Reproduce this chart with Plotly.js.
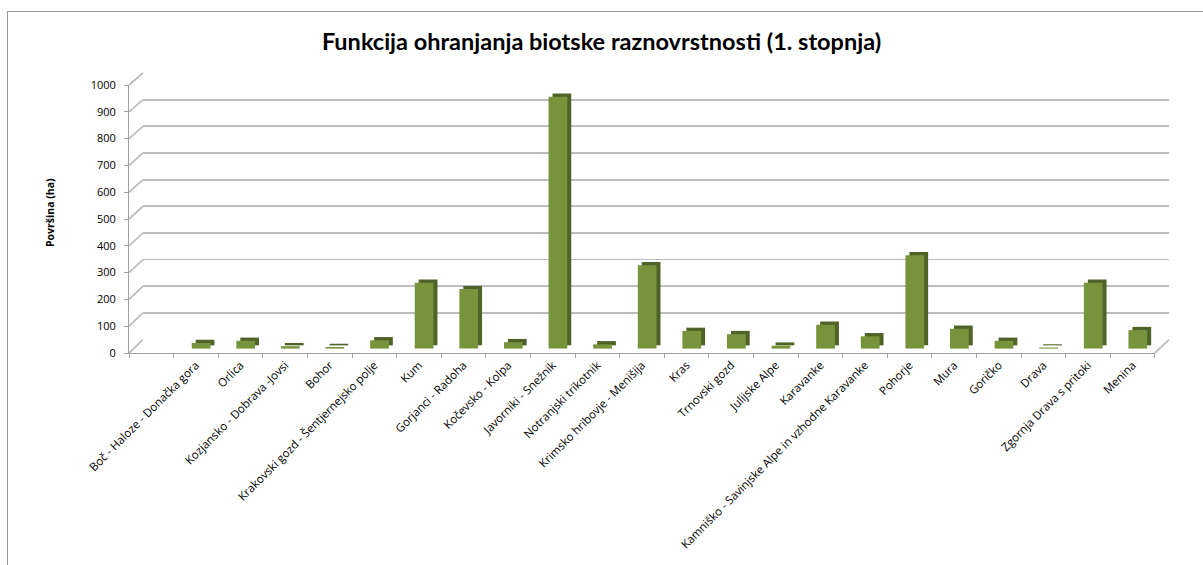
<!DOCTYPE html>
<html>
<head>
<meta charset="utf-8">
<script src="https://cdn.plot.ly/plotly-3.0.1.min.js"></script>
<style>
  html, body { margin: 0; padding: 0; background: #ffffff; overflow: hidden; }
  #chart { width: 1203px; height: 565px; position: absolute; left: 0; top: 0; }
  #frame { position: absolute; left: 7px; top: 11px; width: 1400px; height: 800px;
           border: 1px solid #9a9a9a; pointer-events: none; }
</style>
</head>
<body>
<div id="chart"></div>
<div id="frame"></div>
<script>
// ---- data ----
const categories = [
  " ",
  "Boč - Haloze - Donačka gora",
  "Orlica",
  "Kozjansko - Dobrava -Jovsi",
  "Bohor",
  "Krakovski gozd - Šentjernejsko polje",
  "Kum",
  "Gorjanci - Radoha",
  "Kočevsko - Kolpa",
  "Javorniki - Snežnik",
  "Notranjski trikotnik",
  "Krimsko hribovje - Menišija",
  "Kras",
  "Trnovski gozd",
  "Julijske Alpe",
  "Karavanke",
  "Kamniško - Savinjske Alpe in vzhodne Karavanke",
  "Pohorje",
  "Mura",
  "Goričko",
  "Drava",
  "Zgornja Drava s pritoki",
  "Menina"
];
const areaHa = [null, 21, 29, 9, 6, 31, 246, 222, 24, 940, 16, 311, 66, 54, 11, 89, 46, 348, 74, 29, 4, 246, 69];
const yTickValues = [0, 100, 200, 300, 400, 500, 600, 700, 800, 900, 1000];
const yTickLabels = ["0", "100", "200", "300", "400", "500", "600", "700", "800", "900", "1000"];
const chartTitle = "Funkcija ohranjanja biotske raznovrstnosti (1. stopnja)";
const yTitle = "Površina (ha)";

// ---- style / pseudo-3D geometry ----
const FRONT = "#77933C", SIDE = "#4F6228", GRID = "#bdbdbd", AXIS = "#a0a0a0";
const FRONT_X_END = 0.9865;     // front plane width (paper)
const BACK_X0 = 14 / 1040;      // back wall shift (paper)
const FRONT_Y_TOP = 0.957;
const BACK_Y0 = 0.048;

const traces = [
  { // back grid subplot holder
    type: "scatter", x: [], y: [], xaxis: "x", yaxis: "y",
    hoverinfo: "skip", showlegend: false
  },
  { // dark side / top of columns
    type: "bar", x: categories, y: areaHa, base: 28.5,
    offset: -0.005, width: 0.42,
    xaxis: "x2", yaxis: "y2",
    marker: { color: SIDE, line: { width: 0 } },
    hoverinfo: "skip", showlegend: false
  },
  { // front face of columns
    type: "bar", x: categories, y: areaHa, base: 16.4,
    offset: -0.094, width: 0.42,
    xaxis: "x2", yaxis: "y2",
    marker: { color: FRONT, line: { width: 0 } },
    name: yTitle, showlegend: false
  }
];

const shapes = yTickValues.map(v => ({
  type: "line", xref: "paper", yref: "paper", layer: "below",
  x0: 0, y0: v / 1000 * FRONT_Y_TOP,
  x1: BACK_X0, y1: BACK_Y0 + v / 1000 * (1 - BACK_Y0),
  line: { color: GRID, width: 1.8 }
}));
shapes.push({
  type: "line", xref: "paper", yref: "paper", layer: "below",
  x0: FRONT_X_END, y0: 0, x1: 1, y1: BACK_Y0,
  line: { color: GRID, width: 1.8 }
});

const layout = {
  width: 1203, height: 565,
  margin: { l: 129, r: 34, t: 73, b: 212, pad: 0 },
  paper_bgcolor: "#ffffff",
  plot_bgcolor: "rgba(0,0,0,0)",
  barmode: "overlay",
  font: { family: "Open Sans, sans-serif", color: "#000000", size: 10 },
  title: {
    text: "<b>" + chartTitle + "</b>",
    font: { family: "Lato, sans-serif", size: 23.5, color: "#000000" },
    x: 0.5, xref: "container", xanchor: "center",
    y: 1 - 42 / 565, yref: "container", yanchor: "middle"
  },
  xaxis: {
    domain: [BACK_X0, 1], range: [0, 1], anchor: "y",
    showgrid: false, zeroline: false, showline: false,
    showticklabels: false, ticks: ""
  },
  yaxis: {
    domain: [BACK_Y0, 1], range: [0, 1000], anchor: "x",
    tickmode: "array", tickvals: yTickValues,
    showgrid: true, gridcolor: GRID, gridwidth: 1.8,
    zeroline: false, showline: false, showticklabels: false, ticks: ""
  },
  xaxis2: {
    domain: [0, FRONT_X_END], anchor: "y2", type: "category",
    categoryorder: "array", categoryarray: categories,
    range: [-0.5, categories.length - 0.5],
    tickangle: -45, tickson: "boundaries",
    ticks: "outside", ticklen: 4, tickcolor: AXIS, tickwidth: 1,
    showline: true, linecolor: AXIS, linewidth: 1,
    showgrid: false, zeroline: false,
    tickfont: { family: "Open Sans, sans-serif", size: 11.5, color: "#000000" }
  },
  yaxis2: {
    domain: [0, FRONT_Y_TOP], anchor: "x2", range: [0, 1000],
    tickmode: "array", tickvals: yTickValues, ticktext: yTickLabels,
    ticks: "outside", ticklen: 4, tickcolor: AXIS, tickwidth: 1,
    showline: true, linecolor: AXIS, linewidth: 1,
    showgrid: false, zeroline: false,
    ticklabelstandoff: 6,
    tickfont: { family: "Open Sans, sans-serif", size: 11, color: "#000000" }
  },
  shapes: shapes,
  annotations: [{
    text: "<b>" + yTitle + "</b>",
    xref: "paper", yref: "paper",
    x: (50 - 129) / 1040, y: (353 - 213) / 280,
    xanchor: "center", yanchor: "middle",
    textangle: -90, showarrow: false,
    font: { family: "Open Sans, sans-serif", size: 10.5, color: "#000000" }
  }]
};

Plotly.newPlot("chart", traces, layout, { displayModeBar: false, staticPlot: true });
</script>
</body>
</html>
